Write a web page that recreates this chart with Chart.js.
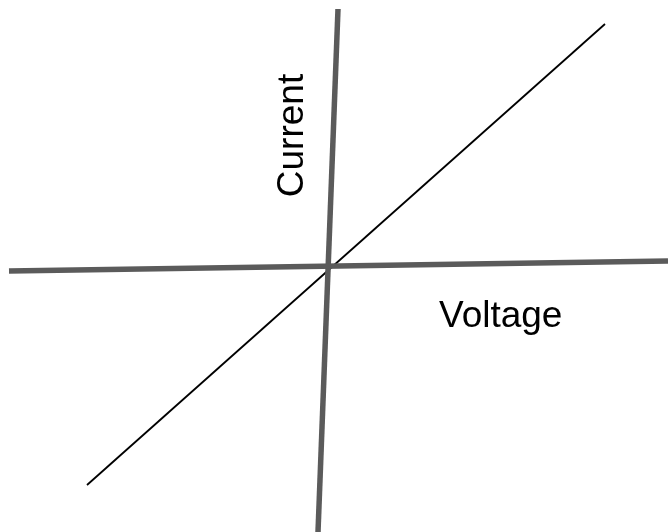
<!DOCTYPE html>
<html>
<head>
<meta charset="utf-8">
<title>Current vs Voltage</title>
<script src="https://cdn.jsdelivr.net/npm/chart.js@4/dist/chart.umd.min.js"></script>
<style>
  html, body { margin: 0; padding: 0; background: #fff; }
  #chart { display: block; }
</style>
</head>
<body>
<canvas id="chart" width="668" height="532"></canvas>
<script>
// Axis lines (slightly tilted, crossing at the origin)
const voltageAxis = [{ x: -319, y: -5 }, { x: 340, y: 5 }];
const currentAxis = [{ x: 10, y: 257 }, { x: -10, y: -266 }];

// Ohmic response line
const responseLine = [{ x: -241, y: -219 }, { x: 277, y: 242 }];

// Labels and where they sit
const axisLabels = ['Current', 'Voltage'];
const labelAnchors = [{ x: -25.5, y: 130.5 }, { x: 111, y: -61 }];

// Draws the two axis labels
const labelPlugin = {
    id: 'axisLabels',
    afterDraw(chart) {
        const ctx = chart.ctx;
        const xs = chart.scales.x;
        const ys = chart.scales.y;
        ctx.save();
        ctx.fillStyle = '#000';
        ctx.font = '37px "Liberation Sans", Arial, sans-serif';
        ctx.textBaseline = 'alphabetic';

        // Current - rotated, reads bottom to top
        ctx.save();
        ctx.translate(xs.getPixelForValue(labelAnchors[0].x), ys.getPixelForValue(labelAnchors[0].y));
        ctx.rotate(-Math.PI / 2);
        ctx.textAlign = 'center';
        ctx.fillText(axisLabels[0], 0, 0);
        ctx.restore();

        // Voltage
        ctx.textAlign = 'left';
        ctx.fillText(axisLabels[1], xs.getPixelForValue(labelAnchors[1].x), ys.getPixelForValue(labelAnchors[1].y));
        ctx.restore();
    }
};

const axisGray = '#5b5b5b';

new Chart(document.getElementById('chart').getContext('2d'), {
    type: 'scatter',
    data: {
        datasets: [
            { data: voltageAxis, showLine: true, borderColor: axisGray, borderWidth: 5.5, pointRadius: 0 },
            { data: currentAxis, showLine: true, borderColor: axisGray, borderWidth: 5.5, pointRadius: 0 },
            { data: responseLine, showLine: true, borderColor: '#000', borderWidth: 1.8, pointRadius: 0 }
        ]
    },
    options: {
        responsive: false,
        animation: false,
        layout: { padding: 0 },
        events: [],
        scales: {
            x: { type: 'linear', min: -328, max: 340, display: false },
            y: { type: 'linear', min: -266, max: 266, display: false }
        },
        plugins: {
            legend: { display: false },
            tooltip: { enabled: false }
        }
    },
    plugins: [labelPlugin]
});
</script>
</body>
</html>
